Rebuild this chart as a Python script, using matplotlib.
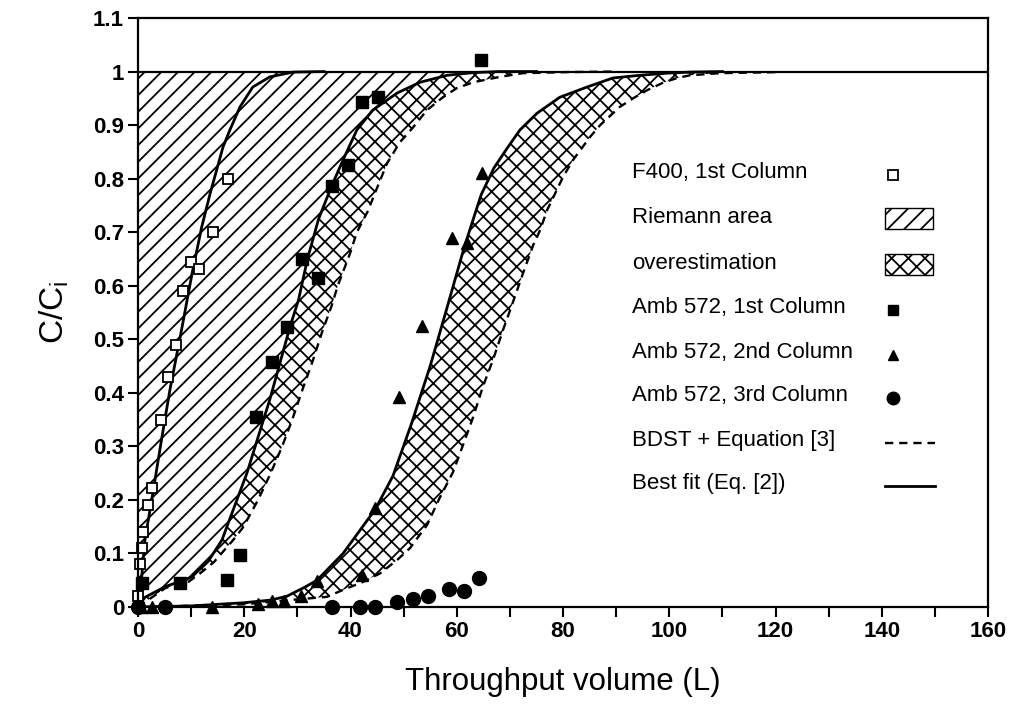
import matplotlib
matplotlib.use("Agg")
import matplotlib.pyplot as plt
from matplotlib.patches import Rectangle
from matplotlib.ticker import FormatStrFormatter, MultipleLocator
import numpy as np

plt.rcParams['font.family'] = ['Liberation Sans', 'DejaVu Sans']
plt.rcParams['hatch.linewidth'] = 1.3

# --- data ---
# F400, 1st column (open squares)
f400_x = [0.0, 0.4, 0.7, 1.0, 1.95, 2.7, 4.3, 5.7, 7.15, 8.5, 9.9, 11.4, 14.2, 17.0]
f400_y = [0.02, 0.081, 0.11, 0.141, 0.19, 0.222, 0.35, 0.43, 0.49, 0.59, 0.645, 0.631, 0.70, 0.80]

# Amb 572, 1st column (filled squares)
amb1_x = [0.7, 7.9, 16.7, 19.2, 22.3, 25.2, 28.0, 30.8, 33.8, 36.5, 39.5, 42.1, 45.1, 64.6]
amb1_y = [0.044, 0.044, 0.05, 0.097, 0.355, 0.458, 0.523, 0.65, 0.614, 0.786, 0.825, 0.944, 0.953, 1.021]

# Amb 572, 2nd column (triangles)
amb2_x = [0.5, 2.6, 13.9, 22.5, 25.2, 27.5, 30.6, 33.7, 42.1, 44.6, 49.1, 53.5, 59.1, 61.9, 64.8]
amb2_y = [0.0, 0.0, 0.0, 0.005, 0.012, 0.012, 0.02, 0.048, 0.06, 0.185, 0.392, 0.525, 0.69, 0.68, 0.81]

# Amb 572, 3rd column (circles)
amb3_x = [0.0, 5.1, 36.5, 41.8, 44.6, 48.7, 51.7, 54.5, 58.6, 61.4, 64.2]
amb3_y = [0.0, 0.0, 0.0, 0.0, 0.0, 0.01, 0.015, 0.02, 0.034, 0.03, 0.055]

# best fit (Eq. [2]) curves
fit_f400_x = [0, 0.4, 1.3, 2.8, 4.5, 6.0, 8.3, 10.2, 12.0, 13.6, 16.0, 17.3, 19.2, 21.6, 24.8, 29.2, 35.0]
fit_f400_y = [0.01, 0.022, 0.125, 0.213, 0.317, 0.405, 0.523, 0.624, 0.71, 0.773, 0.859, 0.891, 0.934,
              0.971, 0.99, 0.999, 1.0]

fit_amb1_x = [0, 1.3, 5.1, 8.0, 10.1, 13.2, 15.8, 17.3, 20.5, 23.0, 24.8, 26.7, 28.6, 30.2, 31.9, 34.0,
              36.4, 38.6, 41.2, 44.2, 48.8, 53.1, 58.2, 63.1, 68.0, 75.0]
fit_amb1_y = [0.0, 0.018, 0.038, 0.048, 0.056, 0.085, 0.125, 0.165, 0.25, 0.33, 0.387, 0.455, 0.523, 0.573,
              0.65, 0.725, 0.785, 0.835, 0.891, 0.928, 0.96, 0.98, 0.993, 0.998, 1.0, 1.0]

fit_amb2_x = [0, 10, 20, 25, 28, 31.4, 33.7, 38.6, 44.7, 48.0, 51.5, 55.0, 58.2, 61.5, 64.6, 67.0, 69.5,
              71.9, 75.1, 79.4, 84.5, 89.4, 94.5, 99.6, 104.0, 110.0]
fit_amb2_y = [0, 0.002, 0.008, 0.013, 0.02, 0.037, 0.05, 0.1, 0.183, 0.245, 0.343, 0.45, 0.56, 0.675,
              0.77, 0.82, 0.857, 0.891, 0.922, 0.952, 0.971, 0.988, 0.993, 0.997, 0.999, 1.0]

# BDST + Equation [3] curves
bdst_amb1_x = [0, 5.1, 8.0, 9.5, 11.7, 14.3, 17.9, 19.8, 22.6, 24.8, 27.1, 29.0, 31.1, 32.9, 34.6, 36.5,
               37.6, 39.9, 41.2, 43.3, 44.6, 46.9, 49.3, 51.8, 54.4, 57.4, 60.0, 63.1, 68.1, 72.5, 80.8, 90.0]
bdst_amb1_y = [0.0, 0.035, 0.045, 0.047, 0.063, 0.084, 0.125, 0.149, 0.2, 0.246, 0.299, 0.349, 0.41, 0.46,
               0.512, 0.564, 0.6, 0.66, 0.70, 0.74, 0.773, 0.829, 0.868, 0.896, 0.928, 0.952, 0.969, 0.98,
               0.99, 0.997, 0.999, 1.0]

bdst_amb2_x = [0, 20, 28.6, 35.6, 38.6, 42.4, 45.6, 48.8, 51.2, 54.4, 56.8, 59.3, 61.2, 63.1, 64.9, 66.8,
               68.7, 70.6, 72.5, 74.4, 75.7, 77.0, 80.0, 81.9, 85.1, 87.0, 90.7, 93.2, 95.8, 98.8, 101.5,
               103.9, 109.6, 121.0]
bdst_amb2_y = [0, 0.005, 0.013, 0.019, 0.032, 0.047, 0.063, 0.088, 0.11, 0.153, 0.204, 0.252, 0.303, 0.355,
               0.411, 0.461, 0.517, 0.57, 0.624, 0.676, 0.704, 0.741, 0.803, 0.835, 0.878, 0.9, 0.934,
               0.95, 0.965, 0.979, 0.988, 0.993, 0.997, 0.999]

legend_labels = ["F400, 1st Column", "Riemann area", "overestimation", "Amb 572, 1st Column",
                 "Amb 572, 2nd Column", "Amb 572, 3rd Column", "BDST + Equation [3]", "Best fit (Eq. [2])"]

# --- figure ---
fig = plt.figure(figsize=(10.17, 7.27), dpi=100)
ax = fig.add_axes([138 / 1017, 1 - 607 / 727, 850 / 1017, 589 / 727])

# hatched areas
ax.fill_between(fit_amb1_x, fit_amb1_y, 1, facecolor='none', edgecolor='black', hatch='//', linewidth=0)
ax.fill(np.r_[fit_amb1_x, bdst_amb1_x[::-1]], np.r_[fit_amb1_y, bdst_amb1_y[::-1]],
        facecolor='none', edgecolor='black', hatch='xx', linewidth=0)
ax.fill(np.r_[fit_amb2_x, bdst_amb2_x[::-1]], np.r_[fit_amb2_y, bdst_amb2_y[::-1]],
        facecolor='none', edgecolor='black', hatch='xx', linewidth=0)

ax.axhline(1.0, color='black', lw=1.6)

# curves
for bx, by in [(bdst_amb1_x, bdst_amb1_y), (bdst_amb2_x, bdst_amb2_y)]:
    ax.plot(bx, by, color='black', lw=1.7, linestyle=(0, (3.5, 2.5)))
for fx, fy in [(fit_f400_x, fit_f400_y), (fit_amb1_x, fit_amb1_y), (fit_amb2_x, fit_amb2_y)]:
    ax.plot(fx, fy, color='black', lw=2.0)

# data points
ax.plot(f400_x, f400_y, 's', ms=7.5, mfc='white', mec='black', mew=1.3, clip_on=False)
ax.plot(amb1_x, amb1_y, 's', ms=8.5, color='black', clip_on=False)
ax.plot(amb2_x, amb2_y, '^', ms=8, color='black', clip_on=False)
ax.plot(amb3_x, amb3_y, 'o', ms=10, color='black', clip_on=False)

# axes styling
ax.set_xlim(0, 160)
ax.set_ylim(0, 1.1)
ax.xaxis.set_major_locator(MultipleLocator(20))
ax.xaxis.set_minor_locator(MultipleLocator(10))
ax.yaxis.set_major_locator(MultipleLocator(0.1))
ax.yaxis.set_major_formatter(FormatStrFormatter('%g'))
ax.tick_params(axis='both', which='both', direction='out', length=7, width=1.5, labelsize=16, pad=3)
for lbl in ax.get_xticklabels() + ax.get_yticklabels():
    lbl.set_fontweight('bold')
for s in ax.spines.values():
    s.set_linewidth(1.6)

ax.set_xlabel("Throughput volume (L)", fontsize=22.5, labelpad=18)
ax.set_ylabel(r"C/C$_\mathregular{i}$", fontsize=24, labelpad=16)

# legend drawn by hand: text on the left, symbol column on the right
rows_y = [0.7385, 0.6621, 0.584, 0.5093, 0.4329, 0.3599, 0.2835, 0.2105]
text_x = 0.581
sym_x = 0.888
for lab, ry in zip(legend_labels, rows_y):
    ax.text(text_x, ry, lab, transform=ax.transAxes, fontsize=16, va='center', ha='left')

tr = ax.transAxes
ax.plot(sym_x, rows_y[0] - 0.005, 's', ms=7, mfc='white', mec='black', mew=1.3, transform=tr)
ax.add_patch(Rectangle((0.879, rows_y[1] - 0.021), 0.056, 0.037, transform=tr,
                       facecolor='none', edgecolor='black', hatch='//', lw=1.0))
ax.add_patch(Rectangle((0.879, rows_y[2] - 0.021), 0.056, 0.037, transform=tr,
                       facecolor='none', edgecolor='black', hatch='xx', lw=1.0))
ax.plot(sym_x, rows_y[3] - 0.005, 's', ms=7.5, color='black', transform=tr)
ax.plot(sym_x, rows_y[4] - 0.005, '^', ms=7.5, color='black', transform=tr)
ax.plot(sym_x, rows_y[5] - 0.005, 'o', ms=9, color='black', transform=tr)
ax.plot([0.879, 0.938], [rows_y[6] - 0.005] * 2, color='black', lw=1.7, linestyle=(0, (3.5, 2.5)),
        transform=tr)
ax.plot([0.879, 0.938], [rows_y[7] - 0.005] * 2, color='black', lw=2.0, transform=tr)

fig.savefig("out.png", dpi=100)
